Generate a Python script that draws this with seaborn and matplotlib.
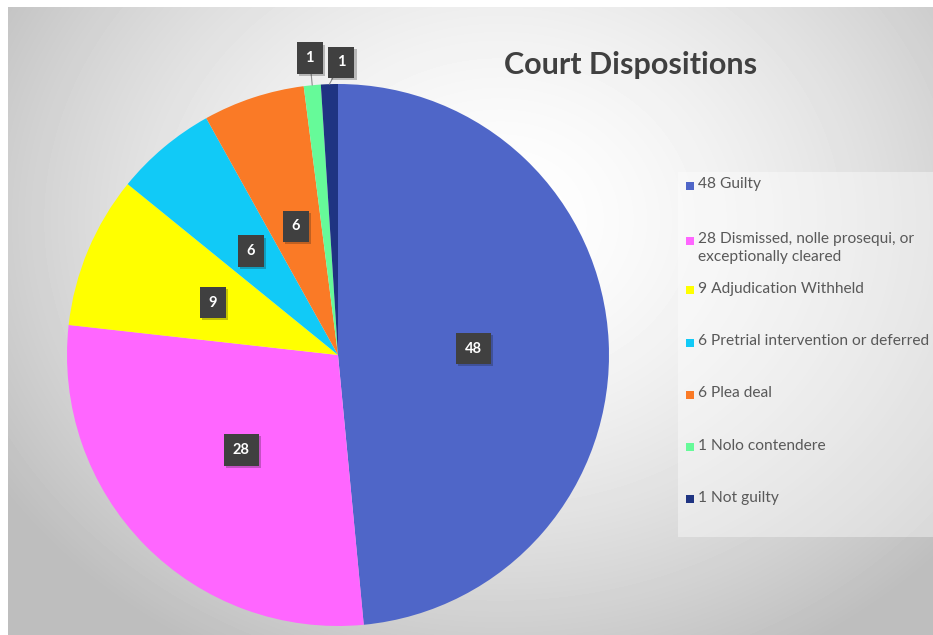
import numpy as np
import matplotlib
matplotlib.use("Agg")
import matplotlib.pyplot as plt
import matplotlib.patheffects as pe
from matplotlib.patches import Rectangle
import seaborn as sns

# chart data
categories = ["Guilty",
              "Dismissed, nolle prosequi, or\nexceptionally cleared",
              "Adjudication Withheld",
              "Pretrial intervention or deferred",
              "Plea deal",
              "Nolo contendere",
              "Not guilty"]
counts = [48, 28, 9, 6, 6, 1, 1]
colors = ["#4F66C8", "#FF66FF", "#FFFF00", "#11CAF7", "#FA7A26", "#66FA99", "#1F3482"]
title = "Court Dispositions"

sns.set_style("white")
palette = sns.color_palette(colors)
plt.rcParams["font.family"] = ["Lato", "DejaVu Sans"]

W, H = 933, 635
fig = plt.figure(figsize=(W / 100, H / 100), dpi=100)

# radial grey background of the chart area
bg = fig.add_axes([8 / W, 0, 1 - 8 / W, 1 - 7 / H])
xx, yy = np.meshgrid(np.arange(8, W), np.arange(7, H))
d = np.sqrt(((xx - 500) / 540.0) ** 2 + ((yy - 220) / 450.0) ** 2)
shade = 1.0 - 0.22 * np.clip(d, 0, 1.1) ** 1.6
bg.imshow(shade, cmap="gray", vmin=0, vmax=1, aspect="auto", interpolation="bilinear")
bg.axis("off")

# pie axes: centre (338, 355) px, radius 271 px
cx, cy, r = 338, 355, 271
ax = fig.add_axes([(cx - r) / W, (H - cy - r) / H, 2 * r / W, 2 * r / H])
ax.patch.set_alpha(0)
wedges, _ = ax.pie(counts, colors=palette, startangle=90, counterclock=False,
                   wedgeprops=dict(linewidth=0))
ax.set_xlim(-1, 1)
ax.set_ylim(-1, 1)
ax.set_aspect("equal")
ax.axis("off")

box = dict(boxstyle="square,pad=0.6", facecolor="#404040", edgecolor="none")
shadow = [pe.SimplePatchShadow(offset=(1.5, -1.5), alpha=0.25), pe.Normal()]
outside_shift = {5: 0.0, 6: -2.5}
for i, (w, n) in enumerate(zip(wedges, counts)):
    ang = np.deg2rad((w.theta1 + w.theta2) / 2)
    if n > 2:
        t = ax.text(0.5 * np.cos(ang), 0.5 * np.sin(ang), str(n), ha="center", va="center",
                    color="white", fontsize=10.5, fontweight="bold", bbox=box)
    else:
        a2 = ang + np.deg2rad(outside_shift[i])
        rr = 1.1 if i == 5 else 1.08
        t = ax.annotate(str(n), xy=(np.cos(ang), np.sin(ang)),
                        xytext=(rr * np.cos(a2), rr * np.sin(a2)),
                        ha="center", va="center", color="white", fontsize=10.5,
                        fontweight="bold", bbox=box,
                        arrowprops=dict(arrowstyle="-", color="#8C8C8C", lw=0.8,
                                        shrinkA=0, shrinkB=0))
    t.get_bbox_patch().set_path_effects(shadow)

# title
fig.text(631 / W, 1 - 65 / H, title, ha="center", va="center",
         fontsize=22, fontweight="bold", color="#404040")

# legend panel
fig.patches.append(Rectangle((678 / W, 1 - 537 / H), (W - 678) / W, 365 / H,
                             transform=fig.transFigure, facecolor="white",
                             alpha=0.4, edgecolor="none", zorder=1))
for i, (lab, n) in enumerate(zip(categories, counts)):
    yc = 186 + i * 52.2
    if i == 1:
        yc = 241
    fig.patches.append(Rectangle((686 / W, 1 - (yc + 4) / H), 8 / W, 8 / H,
                                 transform=fig.transFigure, facecolor=palette[i],
                                 edgecolor="none", zorder=2))
    fig.text(698 / W, 1 - (yc - 8.5) / H, f"{n} {lab}", ha="left", va="top",
             fontsize=11.2, color="#595959", linespacing=1.3, zorder=3)

fig.savefig("out.png", dpi=100)
